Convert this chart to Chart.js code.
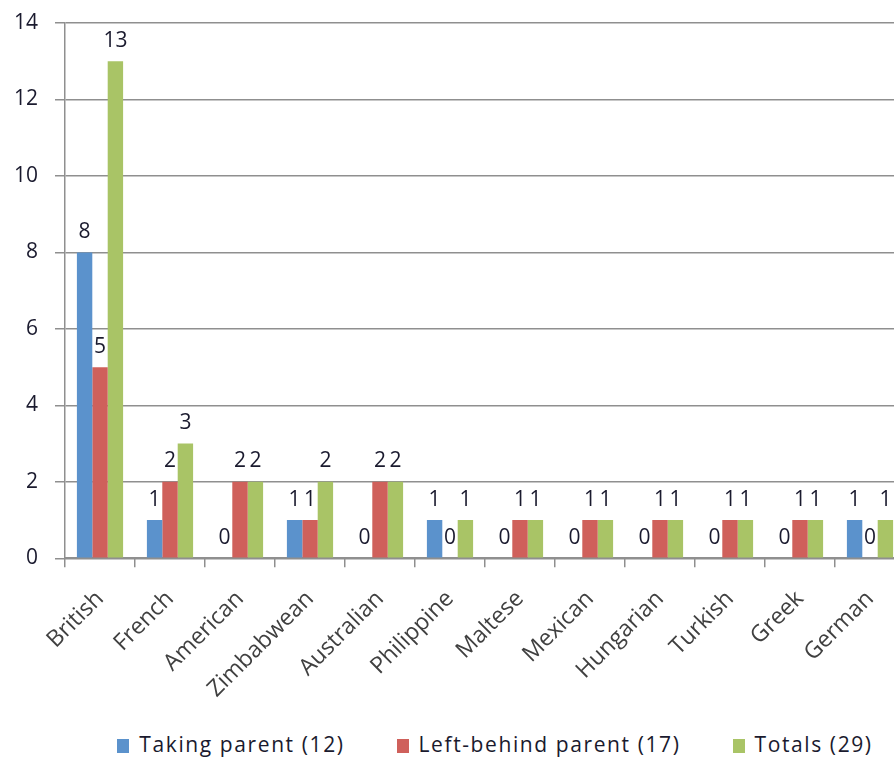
<!DOCTYPE html>
<html>
<head>
<meta charset="utf-8">
<script src="https://cdn.jsdelivr.net/npm/chart.js@4"></script>
<style>
  html, body { margin: 0; padding: 0; background: #fff; overflow: hidden; }
  #wrap { width: 990px; height: 727px; position: relative; }
  #legend {
    position: absolute; top: 730px; left: 0; width: 990px;
    display: flex; justify-content: center; gap: 52px;
    font-family: "Open Sans", Lato, sans-serif; font-size: 21px; letter-spacing: 1.6px; color: #1a1a2e;
  }
  #legend .item { display: flex; align-items: center; }
  #legend .box { width: 12px; height: 14px; margin-right: 10px; margin-top: 3px; }
</style>
</head>
<body>
<div id="wrap"><canvas id="chart"></canvas></div>
<div id="legend"></div>
<script>
const categories = ['British', 'French', 'American', 'Zimbabwean', 'Australian', 'Philippine',
  'Maltese', 'Mexican', 'Hungarian', 'Turkish', 'Greek', 'German']
const takingParent = [8, 1, 0, 1, 0, 1, 0, 0, 0, 0, 0, 1]
const leftBehind = [5, 2, 2, 1, 2, 0, 1, 1, 1, 1, 1, 0]
const totals = [13, 3, 2, 2, 2, 1, 1, 1, 1, 1, 1, 1]
const seriesNames = ['Taking parent (12)', 'Left-behind parent (17)', 'Totals (29)']
const seriesColors = ['#5b92cc', '#cf605b', '#a9c466']

const font = '"Open Sans", Lato, sans-serif'
const gridGray = '#8f8f8f'

// numbers drawn just above every bar, zero included
const barLabels = {
  id: 'barLabels',
  afterDatasetsDraw(chart) {
    const c = chart.ctx
    c.save()
    c.font = '21px ' + font
    c.fillStyle = '#1a1a2e'
    c.textAlign = 'center'
    c.textBaseline = 'bottom'
    chart.data.datasets.forEach((ds, i) => {
      chart.getDatasetMeta(i).data.forEach((bar, j) => {
        c.fillText(String(ds.data[j]), bar.x, bar.y - 10)
      })
    })
    c.restore()
  }
}

let chart = new Chart(document.getElementById('chart'), {
  type: 'bar',
  data: {
    labels: categories,
    datasets: [
      { label: seriesNames[0], data: takingParent, backgroundColor: seriesColors[0] },
      { label: seriesNames[1], data: leftBehind, backgroundColor: seriesColors[1] },
      { label: seriesNames[2], data: totals, backgroundColor: seriesColors[2] }
    ]
  },
  plugins: [barLabels],
  options: {
    responsive: true,
    maintainAspectRatio: false,
    animation: false,
    datasets: { bar: { categoryPercentage: 0.66, barPercentage: 1 } },
    layout: { padding: { left: 0, right: 85, top: 23, bottom: 6 } },
    plugins: {
      tooltip: { enabled: false },
      legend: { display: false }
    },
    scales: {
      x: {
        grid: { drawOnChartArea: false, color: gridGray, lineWidth: 1.5, tickLength: 9 },
        border: { color: gridGray, width: 2 },
        ticks: {
          minRotation: 45,
          maxRotation: 45,
          color: '#404040',
          padding: 18,
          font: { family: font, size: 23 }
        }
      },
      y: {
        min: 0,
        max: 14,
        afterFit: s => { s.width = 65; s.paddingTop = 0; s.paddingBottom = 0 },
        grid: { color: gridGray, lineWidth: 1.5, tickLength: 10 },
        border: { color: gridGray, width: 1.5 },
        ticks: {
          stepSize: 2,
          color: '#1a1a2e',
          padding: 17,
          font: { family: font, size: 21 }
        }
      }
    }
  }
})

// legend built from the chart's own datasets
const legend = document.getElementById('legend')
chart.data.datasets.forEach(ds => {
  const item = document.createElement('div')
  item.className = 'item'
  const box = document.createElement('span')
  box.className = 'box'
  box.style.background = ds.backgroundColor
  const text = document.createElement('span')
  text.textContent = ds.label
  item.appendChild(box)
  item.appendChild(text)
  legend.appendChild(item)
})
</script>
</body>
</html>
